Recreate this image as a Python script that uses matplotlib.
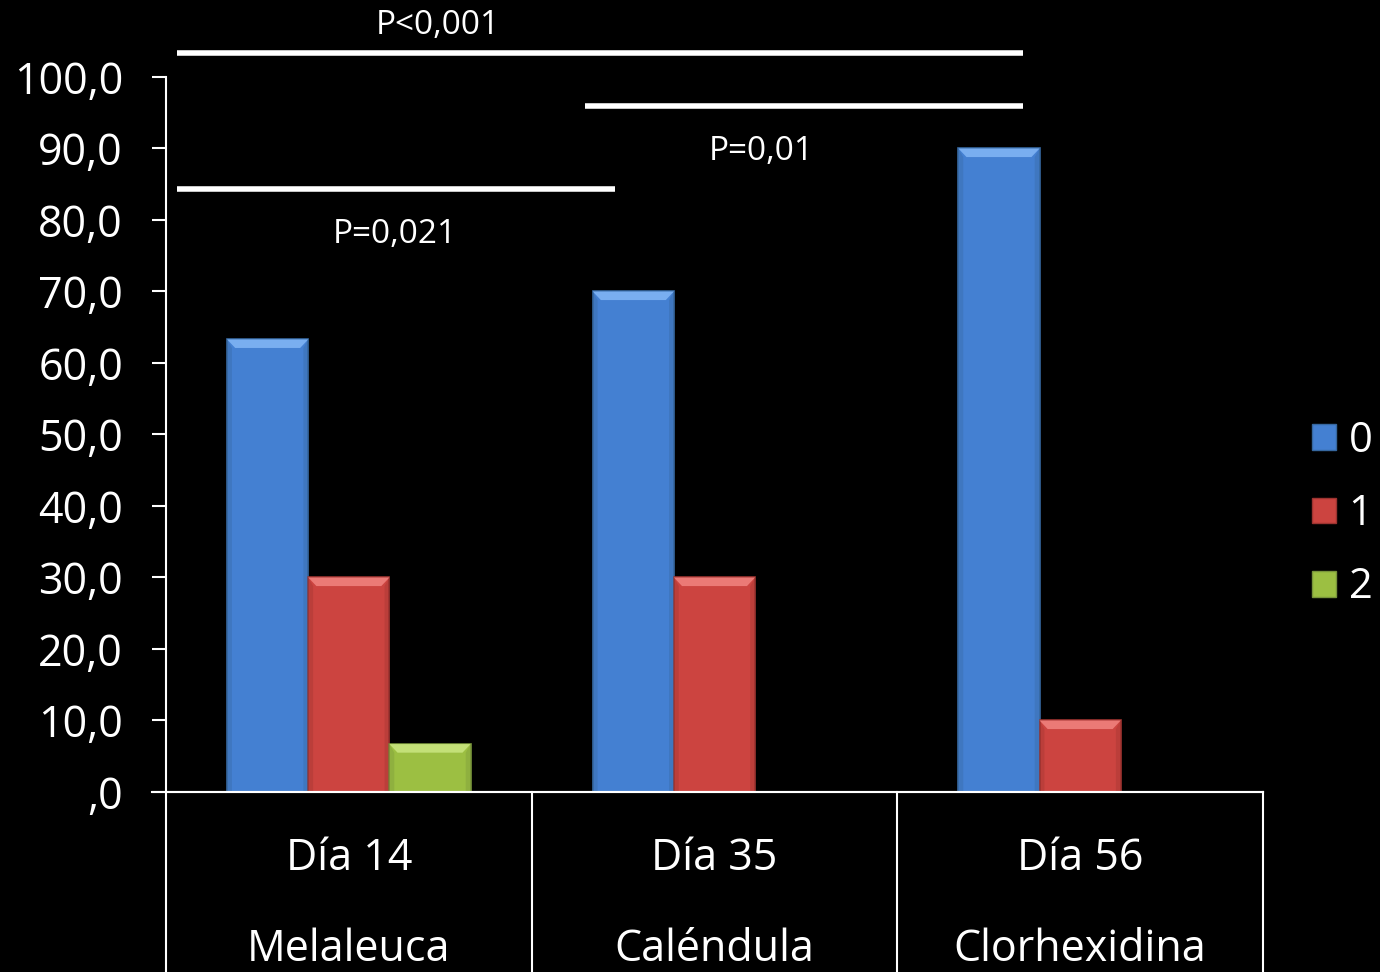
import numpy as np
import matplotlib.pyplot as plt
from matplotlib.patches import Polygon, Patch
from matplotlib.ticker import FuncFormatter

plt.rcParams['font.family'] = ['Open Sans', 'DejaVu Sans']

# datos
grupos = ['Día 14\n\nMelaleuca', 'Día 35\n\nCaléndula', 'Día 56\n\nClorhexidina']
serie_0 = [63.3, 70.0, 90.0]
serie_1 = [30.0, 30.0, 10.0]
serie_2 = [6.7, 0.0, 0.0]
series = ['0', '1', '2']

# comparaciones: (x inicio, x fin, altura linea, x texto, y texto, texto)
comparaciones = [
    (-0.47, 1.845, 103.4, 0.244, 107.2, 'P<0,001'),
    (0.646, 1.845, 95.9, 1.128, 89.6, 'P=0,01'),
    (-0.47, 0.728, 84.3, 0.126, 77.9, 'P=0,021'),
]

colores = ['#4480d2', '#cc4440', '#9cbf42']
bordes = ['#36679f', '#9c3330', '#78943a']
claros = ['#79aef0', '#eb7a76', '#c3e077']

fig = plt.figure(figsize=(13.8, 9.72), dpi=100, facecolor='black')
ax = fig.add_axes([0.1203, 0.1852, 0.7949, 0.7356])
ax.set_facecolor('black')

x = np.arange(len(grupos))
ancho = 0.222
datos = [serie_0, serie_1, serie_2]

for i, vals in enumerate(datos):
    xs = x + (i - 1) * ancho
    barras = ax.bar(xs, vals, width=ancho, color=colores[i],
                    edgecolor=bordes[i], linewidth=1.2, zorder=2)
    # bisel superior para el efecto 3D
    for b in barras:
        h = b.get_height()
        if h <= 0:
            continue
        x0 = b.get_x()
        w = b.get_width()
        dx = w * 0.1
        dy = min(1.2, h * 0.3)
        ax.add_patch(Polygon([[x0, h], [x0 + w, h], [x0 + w - dx, h - dy], [x0 + dx, h - dy]],
                             closed=True, facecolor=claros[i], edgecolor='none', zorder=3))
        ax.add_patch(Polygon([[x0, 0], [x0 + dx * 0.6, 0], [x0 + dx * 0.6, h - dy], [x0, h]],
                             closed=True, facecolor=bordes[i], alpha=0.35, edgecolor='none', zorder=3))
        ax.add_patch(Polygon([[x0 + w, 0], [x0 + w - dx * 0.6, 0], [x0 + w - dx * 0.6, h - dy], [x0 + w, h]],
                             closed=True, facecolor=bordes[i], alpha=0.35, edgecolor='none', zorder=3))

ax.set_xlim(-0.5, 2.5)
ax.set_ylim(0, 100)
ax.set_yticks(np.arange(0, 101, 10))
ax.yaxis.set_major_formatter(FuncFormatter(lambda v, p: ',0' if v == 0 else f'{v:.1f}'.replace('.', ',')))
ax.tick_params(axis='y', colors='white', labelsize=31, length=10, width=1.5, pad=21)
ax.tick_params(axis='x', length=0)
ax.set_xticks([])

for s in ['top', 'right']:
    ax.spines[s].set_visible(False)
ax.spines['left'].set_color('white')
ax.spines['bottom'].set_color('white')
ax.spines['left'].set_linewidth(1.5)
ax.spines['bottom'].set_linewidth(1.5)

# eje de categorias
ax.plot([-0.538, 2.5], [0, 0], color='white', lw=1.5, clip_on=False, zorder=4)
for xb in [-0.5, 0.5, 1.5, 2.5]:
    ax.plot([xb, xb], [0, -26], color='white', lw=1.5, clip_on=False)
for i, g in enumerate(grupos):
    ax.text(x[i], -15.7, g, ha='center', va='center', color='white', fontsize=31,
            linespacing=1.03)

# lineas de significancia
for x0, x1, yl, xt, yt, t in comparaciones:
    ax.plot([x0, x1], [yl, yl], color='white', lw=4, clip_on=False, solid_capstyle='butt')
    ax.text(xt, yt, t, ha='center', va='center', color='white', fontsize=24)

handles = [Patch(facecolor=colores[i], edgecolor=bordes[i]) for i in range(3)]
leg = fig.legend(handles, series, loc='center left', bbox_to_anchor=(0.9507, 0.471),
                 frameon=False, fontsize=30, handlelength=0.58, handleheight=0.58,
                 handletextpad=0.3, labelspacing=0.75, labelcolor='white',
                 borderpad=0, borderaxespad=0)

fig.savefig('out.png', dpi=100, facecolor='black')
